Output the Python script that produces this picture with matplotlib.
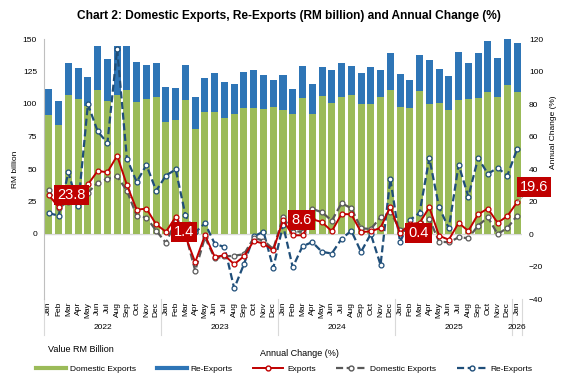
import matplotlib.pyplot as plt
from matplotlib.lines import Line2D
import numpy as np

plt.rcParams['font.family'] = ['Liberation Sans', 'DejaVu Sans']

months = ['Jan', 'Feb', 'Mar', 'Apr', 'May', 'Jun',
          'Jul', 'Aug', 'Sep', 'Oct', 'Nov', 'Dec'] * 4 + ['Jan']
years = ['2022', '2023', '2024', '2025', '2026']

# RM billion
domestic = [91.3, 83.6, 106.8, 103.7, 98.5, 110.6, 102.1, 106.8, 110.6, 101.4, 103.7, 105.2,
            85.9, 87.5, 102.9, 80.5, 93.6, 93.6, 89.0, 92.1, 96.7, 96.7, 96.0, 97.5,
            95.2, 92.1, 104.5, 92.1, 106.0, 100.6, 105.2, 106.8, 99.8, 99.8, 105.2, 110.6,
            97.5, 96.7, 109.9, 99.8, 100.6, 95.2, 102.9, 103.7, 104.5, 109.1, 105.2, 114.5,
            109.1]
reexports = [20.1, 18.5, 24.7, 23.9, 22.2, 34.0, 32.4, 37.7, 34.0, 30.8, 26.2, 26.3,
             27.0, 24.7, 27.0, 24.7, 26.3, 30.1, 27.8, 23.2, 27.8, 29.4, 26.2, 20.8,
             27.0, 19.3, 24.6, 23.2, 22.4, 25.5, 26.3, 22.3, 23.9, 28.6, 20.9, 28.6,
             25.5, 21.6, 27.7, 34.0, 26.2, 26.2, 37.1, 27.8, 34.7, 39.3, 30.1, 36.3,
             37.8]

# annual change (%)
exports_chg = [23.8, 16.6, 22.0, 20.7, 30.5, 38.8, 38.0, 48.2, 30.1, 15.0, 15.6, 5.9,
               1.4, 10.5, -1.4, -17.4, -0.7, -14.1, -13.1, -18.6, -13.7, -4.3, -5.9, -10.0,
               8.6, -0.8, -0.8, 9.1, 7.3, 1.7, 12.3, 12.1, 1.2, 1.6, 3.8, 16.9,
               0.4, 6.2, 6.8, 16.4, -1.1, -3.5, 6.8, 1.9, 12.2, 15.6, 6.9, 11.0,
               19.6]
domestic_chg = [27.2, 16.0, 20.0, 22.0, 25.5, 31.5, 34.0, 35.4, 26.6, 11.3, 10.1, 2.1,
                -5.5, 8.0, 0.0, -22.6, -2.0, -15.0, -13.8, -13.4, -12.4, -2.5, -4.0, -9.3,
                10.3, 1.5, 1.5, 15.4, 13.4, 8.2, 18.9, 15.9, 3.5, 3.1, 10.3, 13.8,
                2.5, 4.5, 6.2, 9.3, -4.7, -5.1, -2.1, -2.5, 5.1, 10.3, 0.0, 3.7,
                11.3]
reexports_chg = [12.8, 11.3, 38.0, 17.1, 79.9, 63.2, 56.0, 113.8, 46.3, 32.0, 42.5, 26.6,
                 36.0, 39.7, 11.5, 1.0, 6.6, -6.0, -8.0, -33.5, -18.5, -1.5, 1.5, -21.0,
                 5.5, -20.5, -7.5, -5.0, -11.0, -12.0, -3.0, 2.0, -11.0, 0.0, -19.0, 34.0,
                 -5.0, 8.5, 13.0, 46.7, 16.4, 3.5, 42.6, 23.0, 46.7, 37.1, 40.6, 36.0,
                 52.2]

green = '#9BBB59'
blue = '#2E75B6'
red = '#C00000'
grey = '#595959'
navy = '#1F4E79'

fig = plt.figure(figsize=(5.77, 3.89), dpi=100)
ax = fig.add_axes([44 / 577, 1 - 299 / 389, 478 / 577, 260 / 389])
x = np.arange(len(domestic))

ax.bar(x, domestic, width=0.72, color=green, zorder=2)
ax.bar(x, reexports, bottom=domestic, width=0.72, color=blue, zorder=2)
ax.axhline(0, color='#D9D9D9', lw=1, zorder=1)
ax.set_xlim(-0.5, len(x) - 0.5)
ax.set_ylim(-50, 150)
ax.set_yticks(range(0, 151, 25))
for s in ['top', 'right', 'bottom']:
    ax.spines[s].set_visible(False)
ax.spines['left'].set_color('#BFBFBF')
ax.tick_params(axis='y', length=0, labelsize=6, pad=5)
ax.set_xticks(x)
ax.set_xticklabels(months, rotation=90, fontsize=6)
ax.tick_params(axis='x', length=0, pad=2)
ax.set_ylabel('RM billion', fontsize=6, labelpad=3)

# year separators and labels under the month labels
trans = ax.get_xaxis_transform()
for b in [-0.5, 11.5, 23.5, 35.5, 47.5, 48.5]:
    ax.plot([b, b], [0, -0.14], color='#D9D9D9', lw=0.8, transform=trans, clip_on=False)
for i, yr in enumerate(years):
    mid = 5.5 + 12 * i if i < 4 else 48
    ax.text(mid, -0.108, yr, transform=trans, ha='center', va='center', fontsize=6)

ax2 = ax.twinx()
ax2.plot(x, reexports_chg, color=navy, lw=1.6, dashes=(3.2, 1.6), marker='o', ms=3.5,
         mfc='white', mec=navy, mew=0.9, zorder=3)
ax2.plot(x, domestic_chg, color=grey, lw=1.6, dashes=(3.2, 1.6), marker='o', ms=3.5,
         mfc='white', mec=grey, mew=0.9, zorder=4)
ax2.plot(x, exports_chg, color=red, lw=1.4, marker='o', ms=3.5,
         mfc='white', mec=red, mew=0.9, zorder=5)
ax2.set_ylim(-40, 120)
ax2.set_yticks(range(-40, 121, 20))
for s in ax2.spines.values():
    s.set_visible(False)
ax2.tick_params(axis='y', length=0, labelsize=6, pad=5)
ax2.set_ylabel('Annual Change (%)', fontsize=6)
ax2.yaxis.set_label_coords(1.058, 0.64)

# January value labels
box = dict(boxstyle='square,pad=0.2', fc=red, ec='none')
for i in [0, 12, 24, 36]:
    ax2.annotate(f'{exports_chg[i]:.1f}', (i, exports_chg[i]), xytext=(6, 0),
                 textcoords='offset points', ha='left', va='center', color='white',
                 fontsize=10.5, bbox=box, zorder=6)
last = len(x) - 1
ax2.annotate(f'{exports_chg[last]:.1f}', (last, exports_chg[last]), xytext=(2, 11),
             textcoords='offset points', ha='left', va='center', color='white',
             fontsize=10.5, bbox=box, zorder=6, annotation_clip=False,
             arrowprops=dict(arrowstyle='-', color='#A6A6A6', lw=0.6, shrinkA=0, shrinkB=0))

fig.suptitle('Chart 2: Domestic Exports, Re-Exports (RM billion) and Annual Change (%)',
             fontsize=8.6, fontweight='bold', y=0.975)

fig.text(48 / 577, 1 - 350 / 389, 'Value RM Billion', fontsize=6.5, va='center')
fig.text(260 / 577, 1 - 353 / 389, 'Annual Change (%)', fontsize=6.5, va='center')

handles = [
    Line2D([], [], color=green, lw=3),
    Line2D([], [], color=blue, lw=3),
    Line2D([], [], color=red, lw=1.4, marker='o', ms=3.5, mfc='white', mec=red),
    Line2D([], [], color=grey, lw=1.6, dashes=(3.2, 1.6), marker='o', ms=3.5, mfc='white', mec=grey),
    Line2D([], [], color=navy, lw=1.6, dashes=(3.2, 1.6), marker='o', ms=3.5, mfc='white', mec=navy),
]
labels = ['Domestic Exports', 'Re-Exports', 'Exports', 'Domestic Exports', 'Re-Exports']
fig.legend(handles, labels, loc='center left', bbox_to_anchor=(36 / 577, 1 - 369 / 389),
           ncol=5, frameon=False, fontsize=6, handlelength=3.6, handletextpad=0.45,
           columnspacing=2.5, borderpad=0, borderaxespad=0)

fig.savefig('out.png', dpi=100)
